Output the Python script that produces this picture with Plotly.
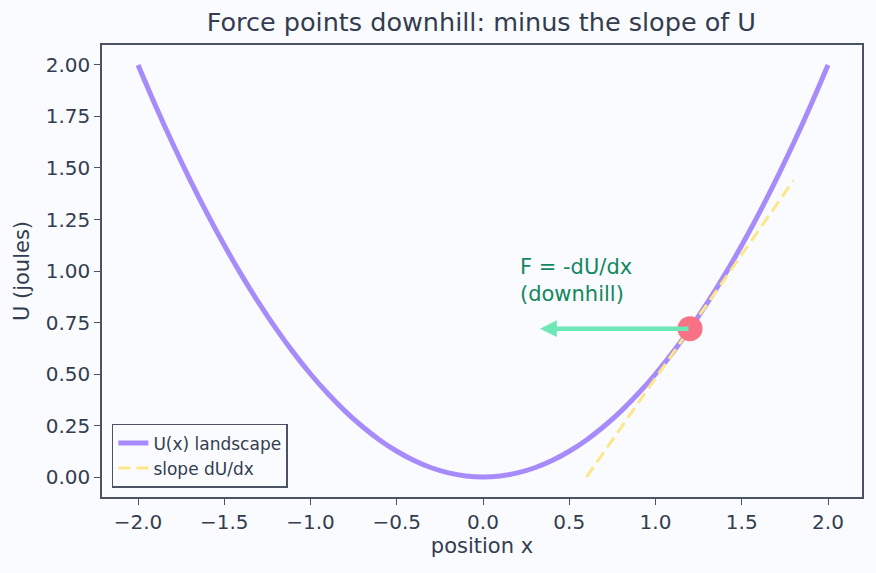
import plotly.graph_objects as go

# Potential landscape U(x), sampled points
x_vals = [-2.0, -1.9, -1.8, -1.7, -1.6, -1.5, -1.4, -1.3, -1.2, -1.1, -1.0,
          -0.9, -0.8, -0.7, -0.6, -0.5, -0.4, -0.3, -0.2, -0.1, 0.0,
          0.1, 0.2, 0.3, 0.4, 0.5, 0.6, 0.7, 0.8, 0.9, 1.0,
          1.1, 1.2, 1.3, 1.4, 1.5, 1.6, 1.7, 1.8, 1.9, 2.0]
u_vals = [2.0, 1.805, 1.62, 1.445, 1.28, 1.125, 0.98, 0.845, 0.72, 0.605, 0.5,
          0.405, 0.32, 0.245, 0.18, 0.125, 0.08, 0.045, 0.02, 0.005, 0.0,
          0.005, 0.02, 0.045, 0.08, 0.125, 0.18, 0.245, 0.32, 0.405, 0.5,
          0.605, 0.72, 0.845, 0.98, 1.125, 1.28, 1.445, 1.62, 1.805, 2.0]

# Tangent line endpoints
slope_x = [0.6, 1.8]
slope_u = [0.0, 1.44]

# Point and force arrow
point_x = [1.2]
point_u = [0.72]
arrow_end_x = 0.33

label_x = 0.2
label_u = 0.955

axis_col = "#4b5263"
text_col = "#333d4f"
font_fam = "DejaVu Sans, Verdana, sans-serif"

fig = go.Figure()
fig.add_trace(go.Scatter(x=x_vals, y=u_vals, mode="lines", name="U(x) landscape",
                         line=dict(color="#a78bfa", width=5, shape="spline")))
fig.add_trace(go.Scatter(x=slope_x, y=slope_u, mode="lines", name="slope dU/dx",
                         line=dict(color="#fde68a", width=3, dash="12px,6px")))
fig.add_trace(go.Scatter(x=point_x, y=point_u, mode="markers", showlegend=False,
                         marker=dict(color="#f87185", size=25)))
fig.add_annotation(x=arrow_end_x, y=point_u[0], ax=point_x[0], ay=point_u[0],
                   xref="x", yref="y", axref="x", ayref="y", text="",
                   showarrow=True, arrowhead=2, arrowsize=0.75, arrowwidth=4.5,
                   arrowcolor="#6ee7b7")
fig.add_annotation(x=label_x, y=label_u, xref="x", yref="y",
                   text="F = -dU/dx<br>(downhill)", showarrow=False,
                   xanchor="left", yanchor="middle", align="left",
                   font=dict(color="#13875f", size=21, family=font_fam))

axis_common = dict(showline=True, linecolor=axis_col, linewidth=1.5, mirror=True,
                   ticks="outside", ticklen=6, tickcolor=axis_col, tickwidth=1.4,
                   showgrid=False, zeroline=False,
                   tickfont=dict(size=20, color=text_col, family=font_fam))

fig.update_layout(
    width=876, height=573,
    margin=dict(l=102, r=14, t=45, b=76),
    paper_bgcolor="#fafbfe", plot_bgcolor="#fafbfe",
    font=dict(family=font_fam, color=text_col),
    title=dict(text="Force points downhill: minus the slope of U", x=0.5495,
               xanchor="center", y=0.962, yanchor="middle",
               font=dict(size=25.5, color=text_col, family=font_fam)),
    xaxis=dict(range=[-2.209, 2.197], tickvals=[-2, -1.5, -1, -0.5, 0, 0.5, 1, 1.5, 2],
               ticktext=["\u22122.0", "\u22121.5", "\u22121.0", "\u22120.5", "0.0", "0.5", "1.0", "1.5", "2.0"],
               title=dict(text="position x", font=dict(size=21, color=text_col), standoff=6),
               **axis_common),
    yaxis=dict(range=[-0.097, 2.097], tickvals=[0, 0.25, 0.5, 0.75, 1, 1.25, 1.5, 1.75, 2],
               tickformat=".2f",
               title=dict(text="U (joules)", font=dict(size=21, color=text_col), standoff=10),
               **axis_common),
    legend=dict(x=0.013, y=0.02, xanchor="left", yanchor="bottom",
                bgcolor="#fafbfe", bordercolor=axis_col, borderwidth=1.5,
                font=dict(size=17, color=text_col, family=font_fam),
                tracegroupgap=0, itemwidth=30),
)

fig.write_html("out.html")
